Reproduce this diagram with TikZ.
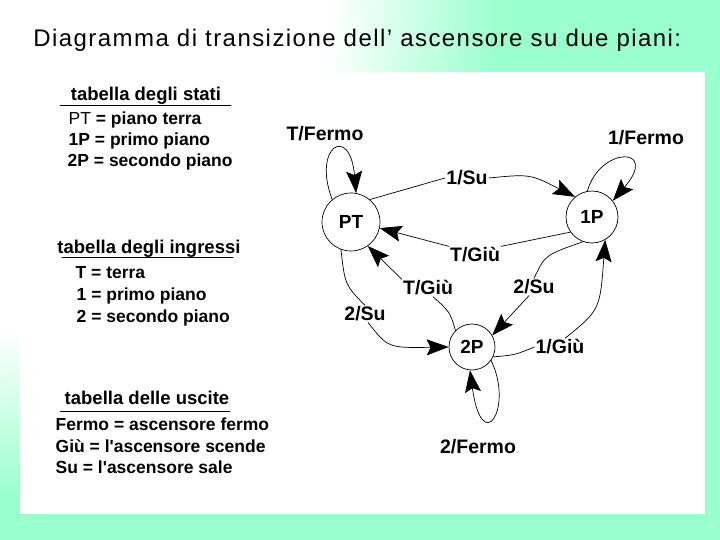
\documentclass[tikz,border=0pt]{standalone}
\usepackage{fontspec}
\setmainfont{Liberation Sans}
\usetikzlibrary{arrows.meta}
\definecolor{mint}{HTML}{99FFCC}
\pgfdeclareradialshading{slidebg}{\pgfpoint{0bp}{0bp}}{color(0bp)=(white); color(16.5bp)=(white); color(25bp)=(mint); color(50bp)=(mint)}
\begin{document}
\begin{tikzpicture}[x=1pt,y=-1pt,line join=round,line cap=round,>={Stealth[length=22pt,width=16pt,inset=4pt]},line width=0.7pt]
  \tikzset{state/.style={circle,draw,fill=white,inner sep=0pt,font=\fontsize{19}{19}\selectfont\bfseries},
           lbl/.style={inner sep=1pt,font=\fontsize{19.5}{19.5}\selectfont\bfseries},
           tabhead/.style={anchor=base,font=\fontsize{18.5}{18.5}\selectfont\bfseries},
           tabrow/.style={anchor=base west,font=\fontsize{17.5}{17.5}\selectfont\bfseries}}
  \useasboundingbox (0,0) rectangle (720,540);
  % slide background
  \begin{scope}
    \clip (0,0) rectangle (720,540);
    \fill[mint] (0,0) rectangle (720,540);
    \shade[shading=slidebg] (0,0) circle (500pt);
  \end{scope}
  \fill[white] (20,72) rectangle (705,514);
  \node[anchor=base west,inner sep=0pt,font=\fontsize{24}{24}\selectfont\addfontfeature{LetterSpace=6}] (title) at (33,47)
    {Diagramma di transizione dell’ ascensore su due piani:};

  % tables
  \node[tabhead] (hstati) at (146,101) {tabella degli stati};
  \draw (60,105) -- (231,105);
  \node[tabrow] (st1) at (65,125) {\mdseries PT \bfseries= piano terra};
  \node[tabrow] (st2) at (65,146) {1P = primo piano};
  \node[tabrow] (st3) at (64,167) {2P = secondo piano};
  \node[tabhead] (hingr) at (149,253) {tabella degli ingressi};
  \draw (62,257) -- (233,257);
  \node[tabrow] (in1) at (72,278) {T = terra};
  \node[tabrow] (in2) at (73,300) {1 = primo piano};
  \node[tabrow] (in3) at (73,322) {2 = secondo piano};
  \node[tabhead] (husc) at (147,404) {tabella delle uscite};
  \draw (60,411) -- (230,411);
  \node[tabrow] (us1) at (52,430) {Fermo = ascensore fermo};
  \node[tabrow] (us2) at (52,452) {Giù = l\textquotesingle ascensore scende};
  \node[tabrow] (us3) at (52,473) {Su = l\textquotesingle ascensore sale};

  % states
  \node[state,minimum size=58pt] (PT) at (351,222) {PT};
  \node[state,minimum size=52pt] (1P) at (592,217) {1P};
  \node[state,minimum size=46pt] (2P) at (472,347) {2P};

  % labels
  \node[lbl] (lTF) at (325,134) {T/Fermo};
  \node[lbl] (l1F) at (646,138) {1/Fermo};
  \node[lbl] (l2F) at (478,447) {2/Fermo};
  \node[lbl] (l1Su) at (467,178) {1/Su};
  \node[lbl] (lTGa) at (475,255) {T/Giù};
  \node[lbl] (lTGb) at (428,288) {T/Giù};
  \node[lbl] (l2Sa) at (365,314) {2/Su};
  \node[lbl] (l2Sb) at (534,287) {2/Su};
  \node[lbl] (l1G) at (560,347) {1/Giù};

  % transitions
  \draw[->] (PT.130) .. controls (312,146) and (350,124) .. (PT.80);
  \draw[->] (1P.100) .. controls (600,146) and (660,146) .. (1P.38);
  \draw[->] (2P.-35) .. controls (514,408) and (482,458) .. (2P.-95);
  \draw (PT.50) -- (l1Su.west);
  \draw[->] (l1Su.east) .. controls (530,174) .. (1P.130);
  \draw (1P.215) -- (lTGa.north east);
  \draw[->] (lTGa.north west) -- (PT.-12);
  \draw (2P.135) .. controls (450,312) .. (lTGb.-60);
  \draw[->] (lTGb.north west) -- (PT.-55);
  \draw (PT.-110) .. controls (345,285) .. (l2Sa.north);
  \draw[->] (l2Sa.-70) .. controls (388,348) .. (2P.west);
  \draw (1P.-110) .. controls (545,255) .. (l2Sb.north);
  \draw[->] (l2Sb.-120) -- (2P.30);
  \draw (2P.-25) .. controls (515,355) .. (l1G.west);
  \draw[->] (l1G.60) .. controls (600,310) .. (1P.-60);
\end{tikzpicture}
\end{document}
